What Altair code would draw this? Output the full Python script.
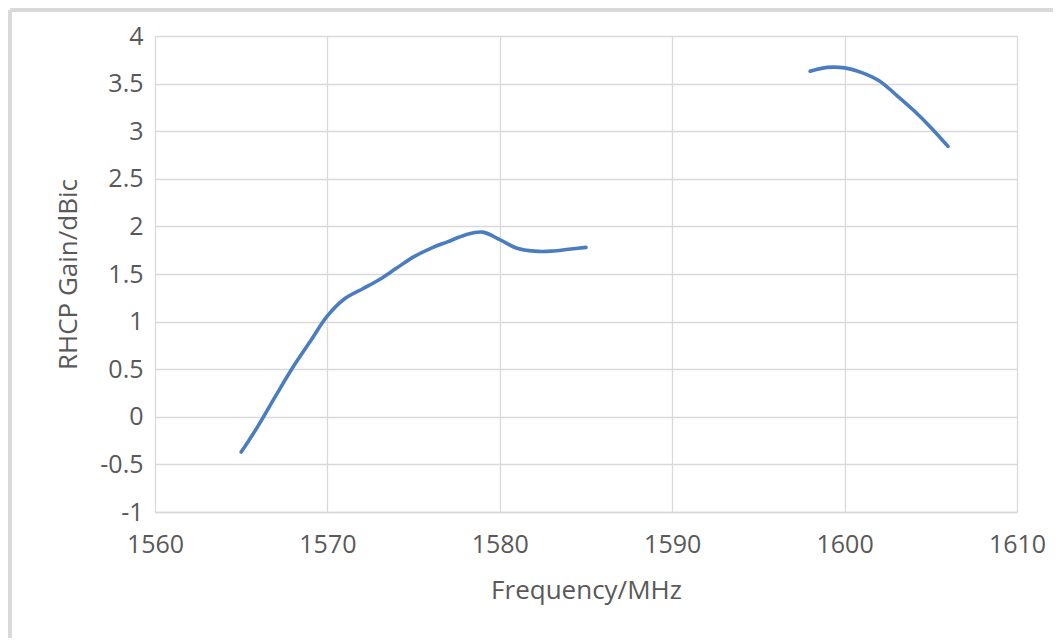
import altair as alt
import pandas as pd

freq_low = [1565, 1566, 1567, 1568, 1569, 1570, 1571, 1572, 1573, 1574, 1575,
            1576, 1577, 1578, 1579, 1580, 1581, 1582, 1583, 1584, 1585]
gain_low = [-0.37, -0.09, 0.22, 0.52, 0.79, 1.06, 1.24, 1.34, 1.44, 1.56, 1.68,
            1.77, 1.84, 1.91, 1.94, 1.86, 1.77, 1.74, 1.74, 1.76, 1.78]
freq_high = [1598, 1599, 1600, 1601, 1602, 1603, 1604, 1605, 1606]
gain_high = [3.63, 3.67, 3.665, 3.615, 3.53, 3.38, 3.22, 3.04, 2.84]

x_ticks = [1560, 1570, 1580, 1590, 1600, 1610]
y_ticks = [-1, -0.5, 0, 0.5, 1, 1.5, 2, 2.5, 3, 3.5, 4]

df = pd.DataFrame({
    "freq": freq_low + freq_high,
    "gain": gain_low + gain_high,
    "seg": ["a"] * len(freq_low) + ["b"] * len(freq_high),
})

FONT = "Open Sans"
GRAY = "#595959"

line = alt.Chart(df).mark_line(
    color="#4a7dbf", strokeWidth=3.6, interpolate="catmull-rom", strokeCap="round"
).encode(
    x=alt.X("freq:Q", scale=alt.Scale(domain=[1560, 1610], nice=False, zero=False),
            axis=alt.Axis(values=x_ticks, title="Frequency/MHz", format="d",
                          grid=True, gridColor="#d9d9d9", gridWidth=1.3,
                          domainColor="#d9d9d9", domainWidth=1.5, ticks=False,
                          labelFlush=False,
                          labelPadding=20, titlePadding=20,
                          labelColor=GRAY, titleColor=GRAY,
                          labelFontSize=25, titleFontSize=26,
                          labelFont=FONT, titleFont=FONT, titleFontWeight="normal")),
    y=alt.Y("gain:Q", scale=alt.Scale(domain=[-1, 4], nice=False, zero=False),
            axis=alt.Axis(values=y_ticks, title="RHCP Gain/dBic",
                          labelExpr="replace(toString(datum.value), '\u2212', '-')",
                          grid=True, gridColor="#d9d9d9", gridWidth=1.3,
                          domain=False, ticks=False, labelPadding=12,
                          labelFlush=False,
                          titlePadding=18,
                          labelColor=GRAY, titleColor=GRAY,
                          labelFontSize=25, titleFontSize=26,
                          labelFont=FONT, titleFont=FONT, titleFontWeight="normal")),
    detail="seg:N",
)

border_v = alt.Chart(df).mark_rule(color="#d9d9d9", strokeWidth=3).encode(
    x=alt.value(-145), y=alt.value(-26), y2=alt.value(640))
border_h = alt.Chart(df).mark_rule(color="#d9d9d9", strokeWidth=3).encode(
    x=alt.value(-145), x2=alt.value(930), y=alt.value(-26))

chart = alt.layer(border_v, border_h, line).properties(
    width=862, height=476,
    autosize=alt.AutoSizeParams(type="none"),
    padding={"left": 147, "top": 28, "right": 36, "bottom": 126},
).configure_view(stroke=None).configure(background="white")

chart.save("out.html", embed_options={"renderer": "svg", "actions": False})
